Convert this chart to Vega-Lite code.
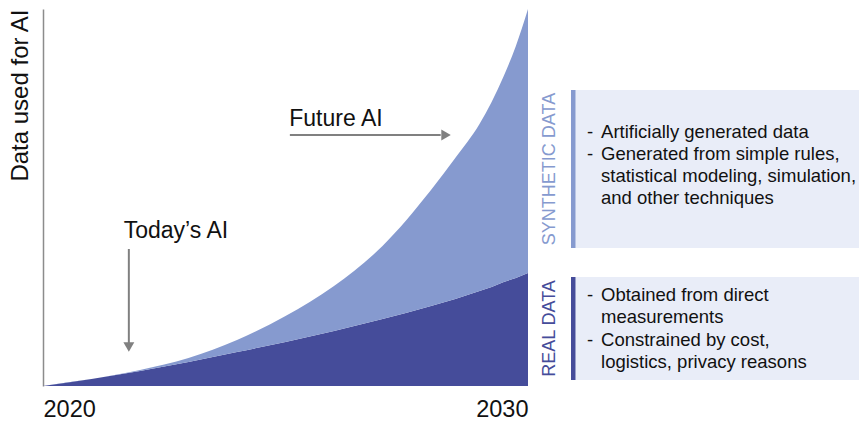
{
  "$schema": "https://vega.github.io/schema/vega-lite/v6.json",
  "padding": {"left": 7, "top": 8, "right": 0, "bottom": 0},
  "background": "white",
  "spacing": 0,
  "config": {"view": {"stroke": null}, "font": "Liberation Sans", "concat": {"spacing": 0}},
  "datasets": {
    "volume": [
      {"year": 2020, "source": "Real data", "amount": 0},
      {"year": 2021, "source": "Real data", "amount": 7},
      {"year": 2022, "source": "Real data", "amount": 15},
      {"year": 2023, "source": "Real data", "amount": 24},
      {"year": 2024, "source": "Real data", "amount": 34},
      {"year": 2025, "source": "Real data", "amount": 44},
      {"year": 2026, "source": "Real data", "amount": 55},
      {"year": 2027, "source": "Real data", "amount": 67},
      {"year": 2028, "source": "Real data", "amount": 80},
      {"year": 2028.5, "source": "Real data", "amount": 87},
      {"year": 2029, "source": "Real data", "amount": 95},
      {"year": 2029.25, "source": "Real data", "amount": 99},
      {"year": 2029.5, "source": "Real data", "amount": 104},
      {"year": 2029.75, "source": "Real data", "amount": 108},
      {"year": 2030, "source": "Real data", "amount": 113},
      {"year": 2020, "source": "Synthetic data", "amount": 0},
      {"year": 2021, "source": "Synthetic data", "amount": 0},
      {"year": 2022, "source": "Synthetic data", "amount": 1},
      {"year": 2023, "source": "Synthetic data", "amount": 4},
      {"year": 2024, "source": "Synthetic data", "amount": 12},
      {"year": 2025, "source": "Synthetic data", "amount": 26},
      {"year": 2026, "source": "Synthetic data", "amount": 45},
      {"year": 2027, "source": "Synthetic data", "amount": 73},
      {"year": 2028, "source": "Synthetic data", "amount": 116},
      {"year": 2028.5, "source": "Synthetic data", "amount": 141},
      {"year": 2029, "source": "Synthetic data", "amount": 167},
      {"year": 2029.25, "source": "Synthetic data", "amount": 185},
      {"year": 2029.5, "source": "Synthetic data", "amount": 206},
      {"year": 2029.75, "source": "Synthetic data", "amount": 232},
      {"year": 2030, "source": "Synthetic data", "amount": 264}
    ],
    "arrows": [
      {"name": "today", "x1": 2021.77, "x2": 2021.77, "y1": 137, "y2": 43},
      {"name": "future", "x1": 2025.09, "x2": 2028.2, "y1": 251, "y2": 251}
    ],
    "callouts": [
      {"label": "Today’s AI", "year": 2022.74, "level": 155},
      {"label": "Future AI", "year": 2026.04, "level": 267}
    ],
    "boxes": [
      {"source": "Synthetic data", "label": "SYNTHETIC DATA", "top": 296, "bottom": 138, "mid": 217},
      {"source": "Real data", "label": "REAL DATA", "top": 109, "bottom": 6, "mid": 57.5}
    ],
    "notes": [
      {"source": "Synthetic data", "bullet": "-", "line": "Artificially generated data", "level": 254},
      {"source": "Synthetic data", "bullet": "-", "line": "Generated from simple rules,", "level": 232},
      {"source": "Synthetic data", "bullet": "", "line": "statistical modeling, simulation,", "level": 210},
      {"source": "Synthetic data", "bullet": "", "line": "and other techniques", "level": 188},
      {"source": "Real data", "bullet": "-", "line": "Obtained from direct", "level": 91},
      {"source": "Real data", "bullet": "", "line": "measurements", "level": 69},
      {"source": "Real data", "bullet": "-", "line": "Constrained by cost,", "level": 46},
      {"source": "Real data", "bullet": "", "line": "logistics, privacy reasons", "level": 24}
    ]
  },
  "hconcat": [
    {
      "width": 485,
      "height": 377,
      "layer": [
        {
          "data": {"name": "volume"},
          "mark": {"type": "area", "interpolate": "monotone"},
          "encoding": {
            "x": {"field": "year", "type": "quantitative",
              "scale": {"domain": [2020, 2030], "nice": false, "zero": false},
              "axis": {"values": [2020, 2030], "format": "d", "labelFlush": true, "domain": false, "ticks": false, "grid": false,
                "labelFontSize": 23.5, "labelColor": "#111", "labelPadding": 11, "title": null}},
            "y": {"field": "amount", "type": "quantitative", "stack": "zero",
              "scale": {"domain": [0, 377], "nice": false},
              "axis": {"title": "Data used for AI", "titleFontSize": 24, "titleFontWeight": "normal", "titleColor": "#111",
                "titleAnchor": "end", "titlePadding": 11, "labels": false, "ticks": false, "grid": false,
                "domainColor": "#8c8c8c", "domainWidth": 1.5}},
            "color": {"field": "source", "type": "nominal",
              "scale": {"domain": ["Real data", "Synthetic data"], "range": ["#454c9a", "#869acf"]}, "legend": null},
            "order": {"field": "source", "type": "nominal", "sort": "ascending"}
          }
        },
        {
          "data": {"name": "arrows"},
          "mark": {"type": "rule", "color": "#808080", "strokeWidth": 2},
          "encoding": {
            "x": {"field": "x1", "type": "quantitative"},
            "x2": {"field": "x2"},
            "y": {"field": "y1", "type": "quantitative"},
            "y2": {"field": "y2"}
          }
        },
        {
          "data": {"values": [{"year": 2021.77, "level": 39}]},
          "mark": {"type": "point", "shape": "triangle-down", "filled": true, "size": 120, "color": "#808080", "opacity": 1},
          "encoding": {
            "x": {"field": "year", "type": "quantitative"},
            "y": {"field": "level", "type": "quantitative"}
          }
        },
        {
          "data": {"values": [{"year": 2028.31, "level": 251}]},
          "mark": {"type": "point", "shape": "triangle-right", "filled": true, "size": 120, "color": "#808080", "opacity": 1},
          "encoding": {
            "x": {"field": "year", "type": "quantitative"},
            "y": {"field": "level", "type": "quantitative"}
          }
        },
        {
          "data": {"name": "callouts"},
          "mark": {"type": "text", "fontSize": 23, "color": "#111", "align": "center", "baseline": "middle"},
          "encoding": {
            "x": {"field": "year", "type": "quantitative"},
            "y": {"field": "level", "type": "quantitative"},
            "text": {"field": "label"}
          }
        }
      ]
    },
    {
      "width": 332,
      "height": 377,
      "layer": [
        {
          "data": {"name": "boxes"},
          "mark": {"type": "rect", "color": "#e9edf8"},
          "encoding": {
            "x": {"datum": 12.95, "type": "quantitative", "scale": {"domain": [0, 100], "nice": false, "zero": false}, "axis": null},
            "x2": {"datum": 100},
            "y": {"field": "top", "type": "quantitative", "scale": {"domain": [0, 377], "nice": false}, "axis": null},
            "y2": {"field": "bottom"}
          }
        },
        {
          "data": {"name": "boxes"},
          "mark": {"type": "rect"},
          "encoding": {
            "x": {"datum": 12.95, "type": "quantitative"},
            "x2": {"datum": 14.3},
            "y": {"field": "top", "type": "quantitative"},
            "y2": {"field": "bottom"},
            "color": {"field": "source", "type": "nominal",
              "scale": {"domain": ["Real data", "Synthetic data"], "range": ["#454c9a", "#869acf"]}, "legend": null}
          }
        },
        {
          "data": {"name": "boxes"},
          "mark": {"type": "text", "angle": 270, "fontSize": 18, "align": "center", "baseline": "middle"},
          "encoding": {
            "x": {"datum": 6.5, "type": "quantitative"},
            "y": {"field": "mid", "type": "quantitative"},
            "text": {"field": "label"},
            "color": {"field": "source", "type": "nominal",
              "scale": {"domain": ["Real data", "Synthetic data"], "range": ["#454c9a", "#869acf"]}, "legend": null}
          }
        },
        {
          "data": {"name": "notes"},
          "mark": {"type": "text", "fontSize": 18.5, "color": "#111", "align": "left", "baseline": "middle"},
          "encoding": {
            "x": {"datum": 17.8, "type": "quantitative"},
            "y": {"field": "level", "type": "quantitative"},
            "text": {"field": "bullet"}
          }
        },
        {
          "data": {"name": "notes"},
          "mark": {"type": "text", "fontSize": 18.5, "color": "#111", "align": "left", "baseline": "middle"},
          "encoding": {
            "x": {"datum": 22.0, "type": "quantitative"},
            "y": {"field": "level", "type": "quantitative"},
            "text": {"field": "line"}
          }
        }
      ]
    }
  ]
}
